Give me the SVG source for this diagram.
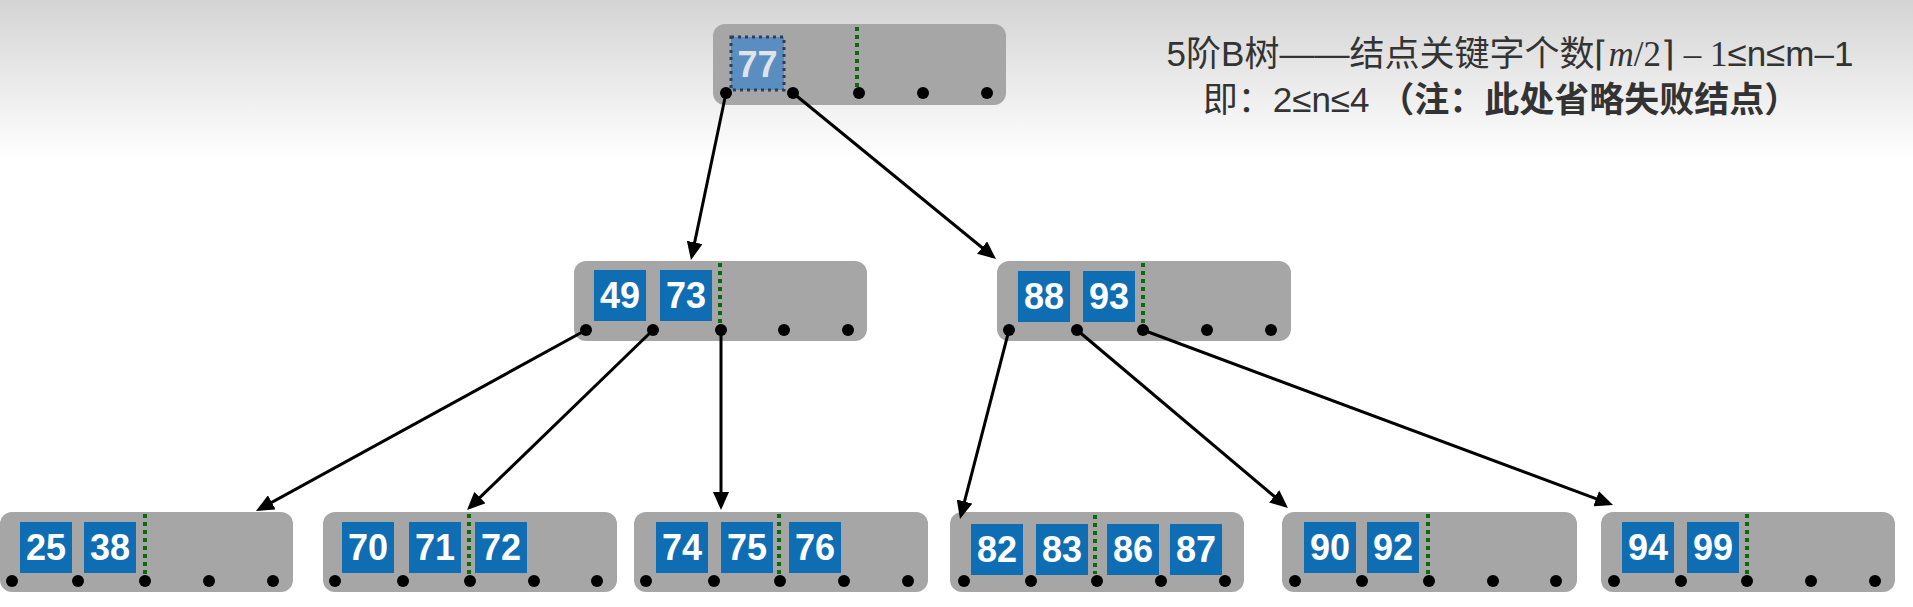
<svg xmlns="http://www.w3.org/2000/svg" width="1913" height="607" viewBox="0 0 1913 607">
<defs>
<linearGradient id="bg" x1="0" y1="0" x2="0" y2="607" gradientUnits="userSpaceOnUse">
<stop offset="0" stop-color="#d4d4d4"/>
<stop offset="0.26" stop-color="#ffffff"/>
<stop offset="1" stop-color="#ffffff"/>
</linearGradient>
<marker id="arr" viewBox="0 0 18 16" markerWidth="18" markerHeight="16" refX="14" refY="8" orient="auto" markerUnits="userSpaceOnUse">
<path d="M0,0 L18,8 L0,16 z" fill="#000"/>
</marker>
</defs>
<style>
.box{fill:#a6a6a6}
.key{fill:#0f6db4}
.kt{fill:#fff;font-family:"Liberation Sans",Arial,sans-serif;font-weight:bold;font-size:36px;text-anchor:middle}
.dot{fill:#000}
.sep{stroke:#0b6a0b;stroke-width:4;stroke-dasharray:4 4}
.edge{stroke:#000;stroke-width:3;fill:none;marker-end:url(#arr)}
.title{font-family:"Liberation Sans","Noto Sans CJK SC",sans-serif;font-size:35px;fill:#333;text-anchor:middle}
</style>
<rect x="0" y="0" width="1913" height="607" fill="url(#bg)"/>

<g id="node-root" transform="translate(713,24)">
<rect class="box" x="0" y="0" width="293" height="81" rx="12"/>
<rect x="18" y="13" width="53" height="53" fill="#5b8ec0" stroke="#2b3f5c" stroke-width="3" stroke-dasharray="3 4"/>
<text class="kt" x="44.5" y="53" style="fill:#dfe3ea">77</text>
<line class="sep" x1="144" y1="3" x2="144" y2="64"/>
<circle class="dot" cx="13" cy="69" r="6"/>
<circle class="dot" cx="80" cy="69" r="6"/>
<circle class="dot" cx="146" cy="69" r="6"/>
<circle class="dot" cx="210" cy="69" r="6"/>
<circle class="dot" cx="274" cy="69" r="6"/>
</g>

<g id="node-49-73" transform="translate(574,261)">
<rect class="box" x="0" y="0" width="293" height="80" rx="12"/>
<rect class="key" x="20" y="9" width="52" height="51"/>
<text class="kt" x="46" y="47">49</text>
<rect class="key" x="86" y="9" width="52" height="51"/>
<text class="kt" x="112" y="47">73</text>
<line class="sep" x1="146" y1="2" x2="146" y2="62"/>
<circle class="dot" cx="12" cy="69" r="6"/>
<circle class="dot" cx="79" cy="69" r="6"/>
<circle class="dot" cx="147" cy="69" r="6"/>
<circle class="dot" cx="210" cy="69" r="6"/>
<circle class="dot" cx="274" cy="69" r="6"/>
</g>

<g id="node-88-93" transform="translate(997,261)">
<rect class="box" x="0" y="0" width="294" height="80" rx="12"/>
<rect class="key" x="21" y="10" width="52" height="51"/>
<text class="kt" x="47" y="48">88</text>
<rect class="key" x="86" y="10" width="52" height="51"/>
<text class="kt" x="112" y="48">93</text>
<line class="sep" x1="146" y1="2" x2="146" y2="62"/>
<circle class="dot" cx="12" cy="69" r="6"/>
<circle class="dot" cx="80" cy="69" r="6"/>
<circle class="dot" cx="146" cy="69" r="6"/>
<circle class="dot" cx="210" cy="69" r="6"/>
<circle class="dot" cx="274" cy="69" r="6"/>
</g>

<g id="node-25-38" transform="translate(0,512)">
<rect class="box" x="0" y="0" width="293" height="80" rx="12"/>
<rect class="key" x="20" y="10" width="52" height="51"/>
<text class="kt" x="46" y="48">25</text>
<rect class="key" x="84" y="10" width="52" height="51"/>
<text class="kt" x="110" y="48">38</text>
<line class="sep" x1="145" y1="2" x2="145" y2="62"/>
<circle class="dot" cx="12" cy="69" r="6"/>
<circle class="dot" cx="78" cy="69" r="6"/>
<circle class="dot" cx="145" cy="69" r="6"/>
<circle class="dot" cx="209" cy="69" r="6"/>
<circle class="dot" cx="273" cy="69" r="6"/>
</g>

<g id="node-70-71-72" transform="translate(323,512)">
<rect class="box" x="0" y="0" width="294" height="80" rx="12"/>
<rect class="key" x="19" y="10" width="52" height="51"/>
<text class="kt" x="45" y="48">70</text>
<rect class="key" x="86" y="10" width="52" height="51"/>
<text class="kt" x="112" y="48">71</text>
<rect class="key" x="152" y="10" width="52" height="51"/>
<text class="kt" x="178" y="48">72</text>
<line class="sep" x1="146" y1="2" x2="146" y2="62"/>
<circle class="dot" cx="12" cy="69" r="6"/>
<circle class="dot" cx="80" cy="69" r="6"/>
<circle class="dot" cx="147" cy="69" r="6"/>
<circle class="dot" cx="211" cy="69" r="6"/>
<circle class="dot" cx="274" cy="69" r="6"/>
</g>

<g id="node-74-75-76" transform="translate(634,512)">
<rect class="box" x="0" y="0" width="294" height="80" rx="12"/>
<rect class="key" x="22" y="10" width="52" height="51"/>
<text class="kt" x="48" y="48">74</text>
<rect class="key" x="87" y="10" width="52" height="51"/>
<text class="kt" x="113" y="48">75</text>
<rect class="key" x="155" y="10" width="52" height="51"/>
<text class="kt" x="181" y="48">76</text>
<line class="sep" x1="145" y1="2" x2="145" y2="62"/>
<circle class="dot" cx="12" cy="69" r="6"/>
<circle class="dot" cx="80" cy="69" r="6"/>
<circle class="dot" cx="146" cy="69" r="6"/>
<circle class="dot" cx="210" cy="69" r="6"/>
<circle class="dot" cx="274" cy="69" r="6"/>
</g>

<g id="node-82-83-86-87" transform="translate(950,512)">
<rect class="box" x="0" y="0" width="294" height="80" rx="12"/>
<rect class="key" x="21" y="12" width="52" height="51"/>
<text class="kt" x="47" y="50">82</text>
<rect class="key" x="86" y="12" width="52" height="51"/>
<text class="kt" x="112" y="50">83</text>
<rect class="key" x="157" y="12" width="52" height="51"/>
<text class="kt" x="183" y="50">86</text>
<rect class="key" x="220" y="12" width="52" height="51"/>
<text class="kt" x="246" y="50">87</text>
<line class="sep" x1="145" y1="3" x2="145" y2="62"/>
<circle class="dot" cx="14" cy="69" r="6"/>
<circle class="dot" cx="81" cy="69" r="6"/>
<circle class="dot" cx="147" cy="69" r="6"/>
<circle class="dot" cx="211" cy="69" r="6"/>
<circle class="dot" cx="275" cy="69" r="6"/>
</g>

<g id="node-90-92" transform="translate(1282,512)">
<rect class="box" x="0" y="0" width="295" height="80" rx="12"/>
<rect class="key" x="22" y="10" width="52" height="51"/>
<text class="kt" x="48" y="48">90</text>
<rect class="key" x="85" y="10" width="52" height="51"/>
<text class="kt" x="111" y="48">92</text>
<line class="sep" x1="146" y1="2" x2="146" y2="62"/>
<circle class="dot" cx="13" cy="69" r="6"/>
<circle class="dot" cx="80" cy="69" r="6"/>
<circle class="dot" cx="147" cy="69" r="6"/>
<circle class="dot" cx="211" cy="69" r="6"/>
<circle class="dot" cx="274" cy="69" r="6"/>
</g>

<g id="node-94-99" transform="translate(1601,512)">
<rect class="box" x="0" y="0" width="294" height="80" rx="12"/>
<rect class="key" x="21" y="10" width="52" height="51"/>
<text class="kt" x="47" y="48">94</text>
<rect class="key" x="86" y="10" width="52" height="51"/>
<text class="kt" x="112" y="48">99</text>
<line class="sep" x1="146" y1="2" x2="146" y2="62"/>
<circle class="dot" cx="13" cy="69" r="6"/>
<circle class="dot" cx="80" cy="69" r="6"/>
<circle class="dot" cx="146" cy="69" r="6"/>
<circle class="dot" cx="210" cy="69" r="6"/>
<circle class="dot" cx="274" cy="69" r="6"/>
</g>

<g id="connectors">
<line class="edge" x1="726" y1="93" x2="691.8" y2="256.1"/>
<line class="edge" x1="793" y1="93" x2="992.9" y2="256.5"/>
<line class="edge" x1="586" y1="330" x2="259.5" y2="509.1"/>
<line class="edge" x1="653" y1="330" x2="469.9" y2="507.2"/>
<line class="edge" x1="721" y1="330" x2="721" y2="506"/>
<line class="edge" x1="1009" y1="330" x2="961" y2="515.1"/>
<line class="edge" x1="1077" y1="330" x2="1284.9" y2="505.4"/>
<line class="edge" x1="1143" y1="330" x2="1609.3" y2="503.6"/>
</g>

<g id="caption">
<text class="title" x="1510" y="66">5阶B树——结点关键字个数<tspan font-family="Liberation Serif">⌈<tspan font-style="italic">m</tspan>/2⌉ – 1</tspan>≤n≤m–1</text>
<text class="title" x="1501" y="112">即：2≤n≤4 <tspan font-weight="bold">（注：此处省略失败结点）</tspan></text>
</g>
</svg>
